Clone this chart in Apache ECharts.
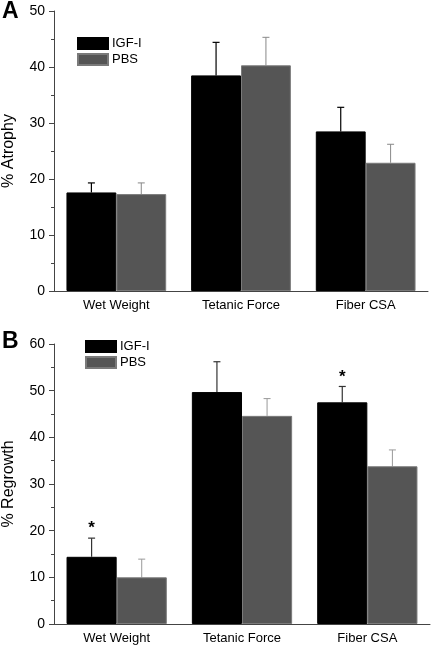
<!DOCTYPE html>
<html>
<head>
<meta charset="utf-8">
<script src="https://cdn.jsdelivr.net/npm/echarts@6/dist/echarts.min.js"></script>
<style>
html,body{margin:0;padding:0;background:#fff;}
#chart{width:431px;height:647px;}
</style>
</head>
<body>
<div id="chart"></div>
<script>
const categories = ['Wet Weight', 'Tetanic Force', 'Fiber CSA'];
const seriesNames = ['IGF-I', 'PBS'];

const atrophyIGF = [17.6, 38.5, 28.5];
const atrophyIGFErr = [19.3, 44.4, 32.8];
const atrophyPBS = [17.3, 40.3, 22.9];
const atrophyPBSErr = [19.3, 45.3, 26.2];

const regrowthIGF = [14.4, 49.7, 47.5];
const regrowthIGFErr = [18.4, 56.2, 50.9];
const regrowthPBS = [10.0, 44.6, 33.8];
const regrowthPBSErr = [13.9, 48.3, 37.3];
const regrowthSig = [true, false, true];

const atrophyTicks = [0, 10, 20, 30, 40, 50];
const regrowthTicks = [0, 10, 20, 30, 40, 50, 60];

const FONT = '"Liberation Sans", Arial, sans-serif';
const IGF_COLOR = '#000000';
const PBS_COLOR = '#555555';

function errSeries(gridIdx, means, tops, side, color, lw, sig) {
  return {
    type: 'custom',
    xAxisIndex: gridIdx * 2,
    yAxisIndex: gridIdx,
    silent: true,
    z: 1,
    data: categories.map((c, i) => [i, means[i], tops[i], sig ? (sig[i] ? 1 : 0) : 0]),
    renderItem: function (params, api) {
      const i = api.value(0);
      const catW = api.size([1, 0])[0];
      const base = api.coord([i, api.value(1)]);
      const top = api.coord([i, api.value(2)]);
      const x = base[0] + side * catW * 0.2;
      const children = [
        { type: 'line', shape: { x1: x, y1: base[1], x2: x, y2: top[1] }, style: { stroke: color, lineWidth: lw } },
        { type: 'line', shape: { x1: x - 3.5, y1: top[1], x2: x + 3.5, y2: top[1] }, style: { stroke: color, lineWidth: lw } }
      ];
      if (api.value(3) === 1) {
        children.push({ type: 'text', style: { text: '*', x: x, y: top[1] - 1, textAlign: 'center', textVerticalAlign: 'bottom', font: 'bold 17px ' + FONT, fill: '#000' } });
      }
      return { type: 'group', children: children };
    }
  };
}

function xAxes(gridIdx) {
  return [
    {
      type: 'category', gridIndex: gridIdx, data: categories,
      axisLine: { lineStyle: { color: '#444', width: 1 } },
      axisTick: { alignWithLabel: true, length: 5, lineStyle: { color: '#444' } },
      axisLabel: { color: '#000', fontSize: 13, fontFamily: FONT, margin: 8 }
    },
    {
      type: 'category', gridIndex: gridIdx, data: categories, position: 'bottom',
      axisLine: { show: false },
      axisTick: { length: 3, lineStyle: { color: '#444' } },
      axisLabel: { show: false }
    }
  ];
}

function yAxis(gridIdx, ticks, name) {
  return {
    type: 'value', gridIndex: gridIdx,
    min: ticks[0], max: ticks[ticks.length - 1], interval: ticks[1] - ticks[0],
    name: name, nameLocation: 'middle', nameGap: 37,
    nameTextStyle: { fontSize: 16, fontFamily: FONT, color: '#000' },
    axisLine: { show: true, lineStyle: { color: '#444', width: 1 } },
    axisTick: { show: true, length: 5, lineStyle: { color: '#444' } },
    minorTick: { show: true, splitNumber: 2, length: 3, lineStyle: { color: '#444' } },
    splitLine: { show: false },
    axisLabel: { color: '#000', fontSize: 14, fontFamily: FONT, margin: 9 }
  };
}

function barSeries(gridIdx, name, data, color, border) {
  return {
    type: 'bar', name: name, xAxisIndex: gridIdx * 2, yAxisIndex: gridIdx,
    data: data, barGap: '0%', barCategoryGap: '20%',
    itemStyle: { color: color, borderColor: border, borderWidth: 1 },
    z: 2
  };
}

const legendBase = {
  data: seriesNames, orient: 'vertical', itemWidth: 30, itemHeight: 11, itemGap: 3,
  icon: 'rect', selectedMode: false, padding: 0,
  textStyle: { fontSize: 13, fontFamily: FONT, color: '#000', padding: [0, 0, 0, -1] }
};

const chart = echarts.init(document.getElementById('chart'), null, { renderer: 'canvas' });
chart.setOption({
  animation: false,
  backgroundColor: '#fff',
  title: [
    { text: 'A', left: 2, top: 0, padding: 0, textStyle: { fontSize: 23, fontWeight: 'bold', fontFamily: FONT, color: '#000' } },
    { text: 'B', left: 2, top: 330, padding: 0, textStyle: { fontSize: 23, fontWeight: 'bold', fontFamily: FONT, color: '#000' } }
  ],
  legend: [
    Object.assign({}, legendBase, { left: 77, top: 37 }),
    Object.assign({}, legendBase, { left: 85, top: 340 })
  ],
  grid: [
    { left: 54, right: 3, top: 11, height: 280, containLabel: false, outerBoundsMode: 'none' },
    { left: 54, right: 1, top: 344, height: 280, containLabel: false, outerBoundsMode: 'none' }
  ],
  xAxis: [].concat(xAxes(0), xAxes(1)),
  yAxis: [yAxis(0, atrophyTicks, '% Atrophy'), yAxis(1, regrowthTicks, '% Regrowth')],
  series: [
    errSeries(0, atrophyIGF, atrophyIGFErr, -1, '#000', 1.2, null),
    errSeries(0, atrophyPBS, atrophyPBSErr, 1, '#888', 1, null),
    barSeries(0, 'IGF-I', atrophyIGF, IGF_COLOR, '#000'),
    barSeries(0, 'PBS', atrophyPBS, PBS_COLOR, '#7a7a7a'),
    errSeries(1, regrowthIGF, regrowthIGFErr, -1, '#333', 1.2, regrowthSig),
    errSeries(1, regrowthPBS, regrowthPBSErr, 1, '#999', 1, null),
    barSeries(1, 'IGF-I', regrowthIGF, IGF_COLOR, '#000'),
    barSeries(1, 'PBS', regrowthPBS, PBS_COLOR, '#7a7a7a')
  ]
});
</script>
</body>
</html>
